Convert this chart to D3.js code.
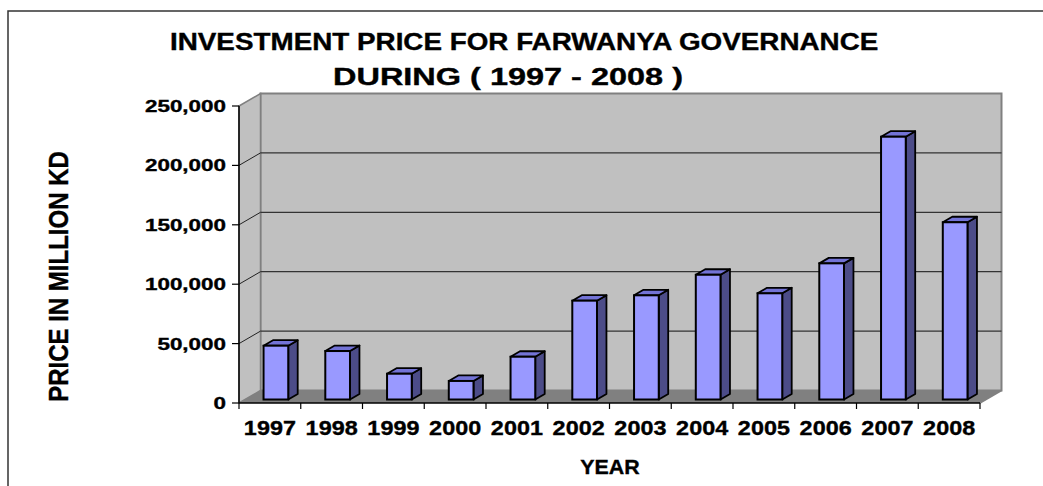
<!DOCTYPE html>
<html>
<head>
<meta charset="utf-8">
<script src="https://cdn.jsdelivr.net/npm/d3@7"></script>
<style>
  body { margin: 0; background: #fff; }
  text { font-family: "Liberation Sans", Arial, sans-serif; font-weight: bold; fill: #000; stroke: #000; stroke-width: 0.35px; }
</style>
</head>
<body>
<div id="chart"></div>
<script>
const years = ['1997', '1998', '1999', '2000', '2001', '2002', '2003', '2004', '2005', '2006', '2007', '2008'];
const prices = [45300, 40800, 21700, 15600, 36000, 83200, 87700, 105000, 89400, 114600, 221200, 149200];
const yTicks = [0, 50000, 100000, 150000, 200000, 250000];

const width = 1043, height = 486;
const depth = { dx: 21.5, dy: -12.5 };   // back wall offset
const f0 = 0.28, f1 = 0.72;              // bar position inside the depth

const svg = d3.select('#chart').append('svg')
  .attr('width', width)
  .attr('height', height);

const x = d3.scaleBand().domain(years).range([239, 980]);
const y = d3.scaleLinear().domain([0, 250000]).range([403, 106]);
const barW = x.bandwidth() / 2.5;

const pts = p => p.map(d => d.join(',')).join(' ');

// stretched text (the original picture is wider than it is tall)
function label(tx, ty, str, size, sx, anchor, rot) {
  return svg.append('text')
    .attr('transform', `translate(${tx},${ty}) scale(${sx},1)` + (rot ? ` rotate(${rot})` : ''))
    .attr('text-anchor', anchor)
    .style('font-size', size + 'px')
    .text(str);
}

// outer frame (only left and top edges in view)
svg.append('path')
  .attr('d', `M8,${height} L8,11 L${width},11`)
  .attr('fill', 'none')
  .attr('stroke', '#333')
  .attr('stroke-width', 1.5);

const xl = x.range()[0], xr = x.range()[1];
const yb = y(0), yt = y(250000);

// back wall
svg.append('polygon')
  .attr('points', pts([[xl + depth.dx, yt + depth.dy], [xr + depth.dx, yt + depth.dy],
    [xr + depth.dx, yb + depth.dy], [xl + depth.dx, yb + depth.dy]]))
  .attr('fill', '#c0c0c0')
  .attr('stroke', '#808080')
  .attr('stroke-width', 2);

// side wall
svg.append('polygon')
  .attr('points', pts([[xl, yt], [xl + depth.dx, yt + depth.dy], [xl + depth.dx, yb + depth.dy], [xl, yb]]))
  .attr('fill', '#c0c0c0')
  .attr('stroke', '#808080')
  .attr('stroke-width', 1.5);

// floor
svg.append('polygon')
  .attr('points', pts([[xl, yb], [xl + depth.dx, yb + depth.dy], [xr + depth.dx, yb + depth.dy], [xr, yb]]))
  .attr('fill', '#808080');
svg.append('line')
  .attr('x1', xr).attr('y1', yb)
  .attr('x2', xr + depth.dx).attr('y2', yb + depth.dy)
  .attr('stroke', '#808080').attr('stroke-width', 1.5);

// gridlines on back wall + side wall
const grid = yTicks.filter(v => v > 0 && v < 250000);
svg.selectAll('.grid').data(grid).enter().append('line')
  .attr('class', 'grid')
  .attr('x1', xl + depth.dx).attr('x2', xr + depth.dx)
  .attr('y1', d => y(d) + depth.dy).attr('y2', d => y(d) + depth.dy)
  .attr('stroke', '#333').attr('stroke-width', 1.3);
svg.selectAll('.sgrid').data(grid).enter().append('line')
  .attr('class', 'sgrid')
  .attr('x1', xl).attr('x2', xl + depth.dx)
  .attr('y1', d => y(d)).attr('y2', d => y(d) + depth.dy)
  .attr('stroke', '#222').attr('stroke-width', 1);

// bars
const ox = depth.dx * f0, oy = depth.dy * f0;
const ddx = depth.dx * (f1 - f0), ddy = depth.dy * (f1 - f0);
const bars = svg.selectAll('.bar').data(years.map((k, i) => ({ year: k, value: prices[i] })))
  .enter().append('g').attr('class', 'bar');

const geo = d => {
  const l = x(d.year) + (x.bandwidth() - barW) / 2 + ox;
  const r = l + barW;
  const t = y(d.value) + oy;
  const b = y(0) + oy;
  return { l, r, t, b };
};

bars.append('polygon')
  .attr('points', d => { const g = geo(d); return pts([[g.r, g.t], [g.r + ddx, g.t + ddy], [g.r + ddx, g.b + ddy], [g.r, g.b]]); })
  .attr('fill', '#4c4c88').attr('stroke', '#000').attr('stroke-width', 1.8).attr('stroke-linejoin', 'round');
bars.append('polygon')
  .attr('points', d => { const g = geo(d); return pts([[g.l, g.t], [g.l + ddx, g.t + ddy], [g.r + ddx, g.t + ddy], [g.r, g.t]]); })
  .attr('fill', '#7373d6').attr('stroke', '#000').attr('stroke-width', 1.8).attr('stroke-linejoin', 'round');
bars.append('rect')
  .attr('x', d => geo(d).l)
  .attr('y', d => geo(d).t)
  .attr('width', barW)
  .attr('height', d => geo(d).b - geo(d).t)
  .attr('fill', '#9999ff').attr('stroke', '#000').attr('stroke-width', 2);

// axes
svg.append('line')
  .attr('x1', xl).attr('x2', xl).attr('y1', yt).attr('y2', yb)
  .attr('stroke', '#000').attr('stroke-width', 1.5);
svg.append('line')
  .attr('x1', xl).attr('x2', xr).attr('y1', yb).attr('y2', yb)
  .attr('stroke', '#000').attr('stroke-width', 1.5);

svg.selectAll('.ytick').data(yTicks).enter().append('line')
  .attr('x1', xl - 7).attr('x2', xl)
  .attr('y1', d => y(d)).attr('y2', d => y(d))
  .attr('stroke', '#000').attr('stroke-width', 1.2);

const bounds = years.map(k => x(k)).concat([xr]);
svg.selectAll('.xtick').data(bounds).enter().append('line')
  .attr('x1', d => d).attr('x2', d => d)
  .attr('y1', yb).attr('y2', yb + 6)
  .attr('stroke', '#000').attr('stroke-width', 1.2);

// tick labels
yTicks.forEach(v => label(226, y(v) + 6, d3.format(',')(v), 17, 1.32, 'end'));
years.forEach(k => label(x(k) + x.bandwidth() / 2, 435, k, 20, 1.17, 'middle'));

// axis titles
label(610, 474, 'YEAR', 20, 1.07, 'middle');
label(68, 276.5, 'PRICE IN MILLION KD', 24, 1.16, 'middle', -90);

// chart title
label(170, 50, 'INVESTMENT PRICE FOR FARWANYA GOVERNANCE', 23, 1.21, 'start');
svg.append('text')
  .attr('x', 333).attr('y', 85)
  .attr('textLength', 350)
  .attr('lengthAdjust', 'spacingAndGlyphs')
  .style('font-size', '23px')
  .text('DURING ( 1997 - 2008 )');
</script>
</body>
</html>
